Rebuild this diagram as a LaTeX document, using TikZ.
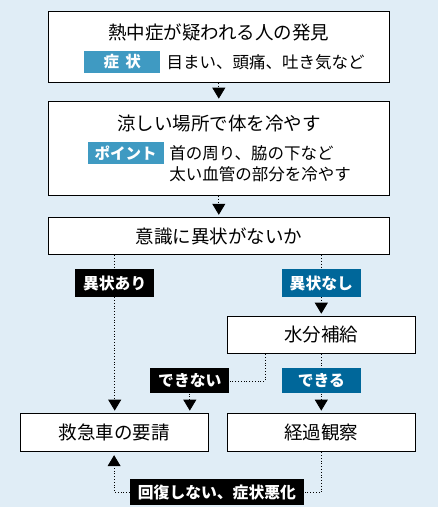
\documentclass[tikz,border=0pt]{standalone}
\usepackage{fontspec}
\setmainfont{Noto Sans CJK JP}
\usetikzlibrary{arrows.meta,positioning}
\definecolor{bgblue}{HTML}{E0EDF6}
\definecolor{tagblue}{HTML}{3F9AC2}
\definecolor{tagdark}{HTML}{00679A}

\begin{document}
\begin{tikzpicture}[
  node distance=18pt,
  font=\fontsize{16.5pt}{21.6pt}\selectfont,
  box/.style={draw, line width=1.2pt, fill=white, minimum height=37.3pt, inner sep=0pt},
  wide/.style={box, minimum width=341pt},
  half/.style={box, minimum width=188pt},
  ttl/.style={font=\fontsize{18.5pt}{22pt}\selectfont},
  tag/.style={fill=tagblue, text=white, font=\bfseries\fontsize{15.5pt}{18pt}\selectfont,
              minimum width=76pt, minimum height=21.7pt, inner sep=0pt},
  flag/.style={text=white, font=\bfseries\fontsize{15.8pt}{18pt}\selectfont,
               minimum width=79pt, minimum height=25pt, inner xsep=8pt, inner ysep=0pt},
  dots/.style={line width=0.8pt, dash pattern=on 0.8pt off 2pt},
  ar/.style={dots, -{Triangle[width=13pt,length=11pt]}, shorten >=2pt}]

\useasboundingbox[fill=bgblue] (0,0) rectangle (438pt,-507pt);

% main column
\node[wide, minimum height=71pt] (find) at (218.8pt,-46.8pt) {};
\node[ttl, inner sep=0pt] (findttl) at ([yshift=-21.7pt]find.north) {熱中症が疑われる人の発見};
\node[tag] (sym) at ([shift={(74.6pt,-15pt)}]find.west) {症\hspace{.4em}状};
\node[right=6pt of sym, inner sep=0pt] (symtxt) {目まい、頭痛、吐き気など};

\node[wide, minimum height=94.3pt, below=17.7pt of find] (cool) {};
\node[ttl, inner sep=0pt] (coolttl) at ([yshift=-22.7pt]cool.north) {涼しい場所で体を冷やす};
\node[tag] (point) at ([shift={(78pt,-4.6pt)}]cool.west) {ポイント};
\node[right=5.3pt of point, inner sep=0pt] (neck) {首の周り、脇の下など};
\node[anchor=west, inner sep=0pt] (vessel) at ([yshift=-21.6pt]neck.west) {太い血管の部分を冷やす};

\node[wide, ttl, below=20.7pt of cool] (check) {意識に異状がないか};

% branches
\node[flag, fill=tagdark, minimum height=27.7pt, below=13.7pt of check, xshift=102.5pt] (no) {異状なし};
\node[flag, fill=black, minimum height=27.7pt, left=127pt of no] (yes) {異状あり};
\node[half, ttl, below=18.6pt of no] (water) {水分補給};
\node[flag, fill=tagdark, below=14pt of water] (can) {できる};
\node[flag, fill=black, left=52pt of can] (cant) {できない};
\node[half, ttl, minimum height=38.4pt, below=19pt of can] (watch) {経過観察};
\node[half, ttl, minimum height=38.4pt, left=18pt of watch] (aid) {救急車の要請};
\node[flag, fill=black, minimum height=25.6pt, below=27pt of aid, xshift=102.8pt] (worse) {回復しない、症状悪化};

\draw[ar] (find) -- (cool);
\draw[ar] (cool) -- (check);
\draw[dots] (check.south -| yes) -- (yes);
\draw[ar] (yes) -- (yes |- aid.north);
\draw[dots] (check.south -| no) -- (no);
\draw[ar] (no) -- (water);
\draw[dots] ([xshift=-56pt]water.south) |- (cant.east);
\draw[ar] (cant) -- (cant |- aid.north);
\draw[dots] (water) -- (can);
\draw[ar] (can) -- (watch);
\draw[dots] (watch.south) |- (worse.east);
\draw[ar, shorten >=3pt] (worse.west) -| (aid.south);
\end{tikzpicture}
\end{document}
